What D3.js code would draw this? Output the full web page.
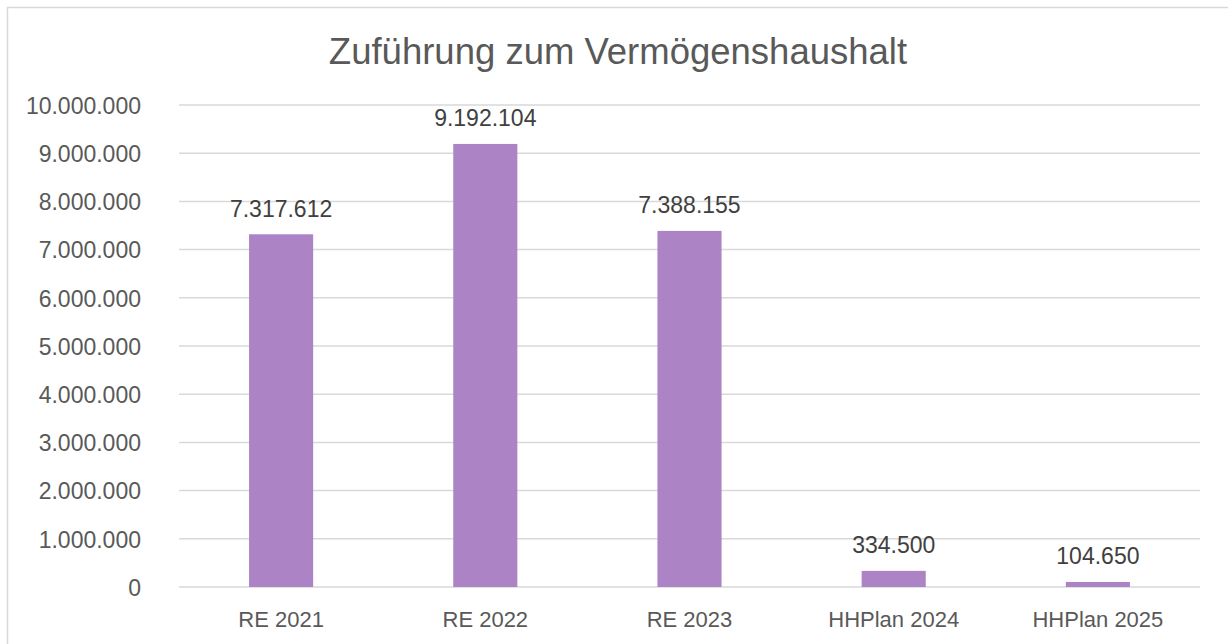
<!DOCTYPE html>
<html lang="de">
<head>
  <meta charset="UTF-8" />
  <title>Zuführung zum Vermögenshaushalt</title>
  <style>
    body { margin: 0; background: #fff; }
    svg { display: block; font-family: "Liberation Sans", Arial, sans-serif; }
    .grid line { stroke: #d9d9d9; stroke-width: 1.5px; }
    .title { fill: #595959; font-size: 36.5px; }
    .label { fill: #404040; font-size: 23px; }
  </style>
</head>
<body>
  <svg width="1228" height="644"></svg>
  <script src="https://d3js.org/d3.v7.min.js"></script>
  <script>
    const categories = ["RE 2021", "RE 2022", "RE 2023", "HHPlan 2024", "HHPlan 2025"];
    const values = [7317612, 9192104, 7388155, 334500, 104650];
    const yTicks = [0, 1000000, 2000000, 3000000, 4000000, 5000000, 6000000, 7000000, 8000000, 9000000, 10000000];

    const svg = d3.select("svg");
    const margin = { left: 179, right: 28, top: 105, bottom: 57 };
    const width = 1228, height = 644;

    // chart border (runs off the right/bottom edge like the screenshot)
    svg.append("rect")
      .attr("x", 7.5).attr("y", 7.5)
      .attr("width", 1240).attr("height", 660)
      .attr("fill", "none").attr("stroke", "#d9d9d9").attr("stroke-width", 1.5);

    const deFormat = d3.formatLocale({ decimal: ",", thousands: ".", grouping: [3], currency: ["", " €"] }).format(",.0f");

    const x = d3.scaleBand()
      .domain(categories)
      .range([margin.left, width - margin.right])
      .paddingInner(0.686)
      .paddingOuter(0.343);

    const y = d3.scaleLinear()
      .domain([0, 10000000])
      .range([height - margin.bottom, margin.top]);

    // gridlines
    svg.append("g").attr("class", "grid")
      .selectAll("line")
      .data(yTicks).enter().append("line")
      .attr("x1", margin.left).attr("x2", width - margin.right)
      .attr("y1", d => y(d)).attr("y2", d => y(d));

    // y axis labels
    const yAxis = svg.append("g")
      .attr("transform", "translate(141,0)")
      .call(d3.axisLeft(y).tickValues(yTicks).tickFormat(deFormat).tickSize(0).tickPadding(0));
    yAxis.select(".domain").remove();
    yAxis.attr("font-family", null).attr("font-size", 23);
    yAxis.selectAll("text").attr("fill", "#595959").attr("dy", "0.36em");

    // x axis labels
    const xAxis = svg.append("g")
      .attr("transform", `translate(0,${height - margin.bottom})`)
      .call(d3.axisBottom(x).tickSize(0).tickPadding(0));
    xAxis.select(".domain").remove();
    xAxis.attr("font-family", null).attr("font-size", 22);
    xAxis.selectAll("text").attr("fill", "#595959").attr("dy", null).attr("y", 40);

    // bars
    svg.append("g").selectAll("rect")
      .data(values).enter().append("rect")
      .attr("x", (d, i) => x(categories[i]))
      .attr("width", x.bandwidth())
      .attr("y", d => y(d))
      .attr("height", d => y(0) - y(d))
      .attr("fill", "#ac84c6");

    // data labels
    svg.append("g").selectAll("text")
      .data(values).enter().append("text")
      .attr("class", "label")
      .attr("text-anchor", "middle")
      .attr("x", (d, i) => x(categories[i]) + x.bandwidth() / 2)
      .attr("y", d => y(d) - 17.5)
      .text(d => deFormat(d));

    // title
    svg.append("text")
      .attr("class", "title")
      .attr("x", 618).attr("y", 64)
      .attr("text-anchor", "middle")
      .text("Zuführung zum Vermögenshaushalt");
  </script>
</body>
</html>
